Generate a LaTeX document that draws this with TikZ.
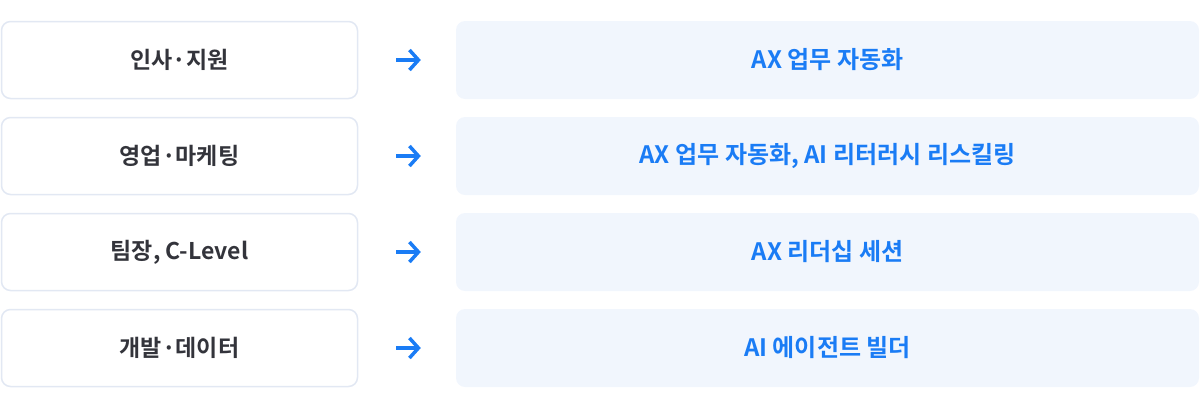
\documentclass[tikz,border=0pt]{standalone}
\usepackage{fontspec}
\setmainfont{Noto Sans CJK KR}[BoldFont={* Bold}]
\usetikzlibrary{arrows.meta}
\definecolor{txt}{HTML}{33343B}
\definecolor{blu}{HTML}{1A7CF5}
\definecolor{bord}{HTML}{E2E8F3}
\definecolor{pale}{HTML}{F1F6FD}
\begin{document}
\begin{tikzpicture}[x=1pt,y=-1pt,
 lb/.style={draw=bord,line width=1.5pt,rounded corners=9pt,fill=white,minimum width=356pt,minimum height=77pt,font=\bfseries\fontsize{23}{26}\selectfont,text=txt,inner sep=0},
 rb/.style={fill=pale,rounded corners=9pt,minimum width=743pt,minimum height=78pt,font=\bfseries\fontsize{24}{27}\selectfont,text=blu,inner sep=0},
 ar/.style={draw=blu,line width=3.5pt,-{Straight Barb[length=9pt,width=20pt,line width=3.5pt]},shorten <=38pt,shorten >=35pt}]
\useasboundingbox (0,0) rectangle (1200,408);
\foreach \i/\a/\b in {1/인사·지원/AX 업무 자동화,2/영업·마케팅/{AX 업무 자동화, AI 리터러시 리스킬링},3/{팀장, C-Level}/AX 리더십 세션,4/개발·데이터/AI 에이전트 빌더}{
 \node[lb] (l\i) at (179.5,{60+96*(\i-1)}) {\a};
 \node[rb] (r\i) at (827.5,{60+96*(\i-1)}) {\b};
 \draw[ar] (l\i.east) -- (r\i.west);
}
\end{tikzpicture}
\end{document}
